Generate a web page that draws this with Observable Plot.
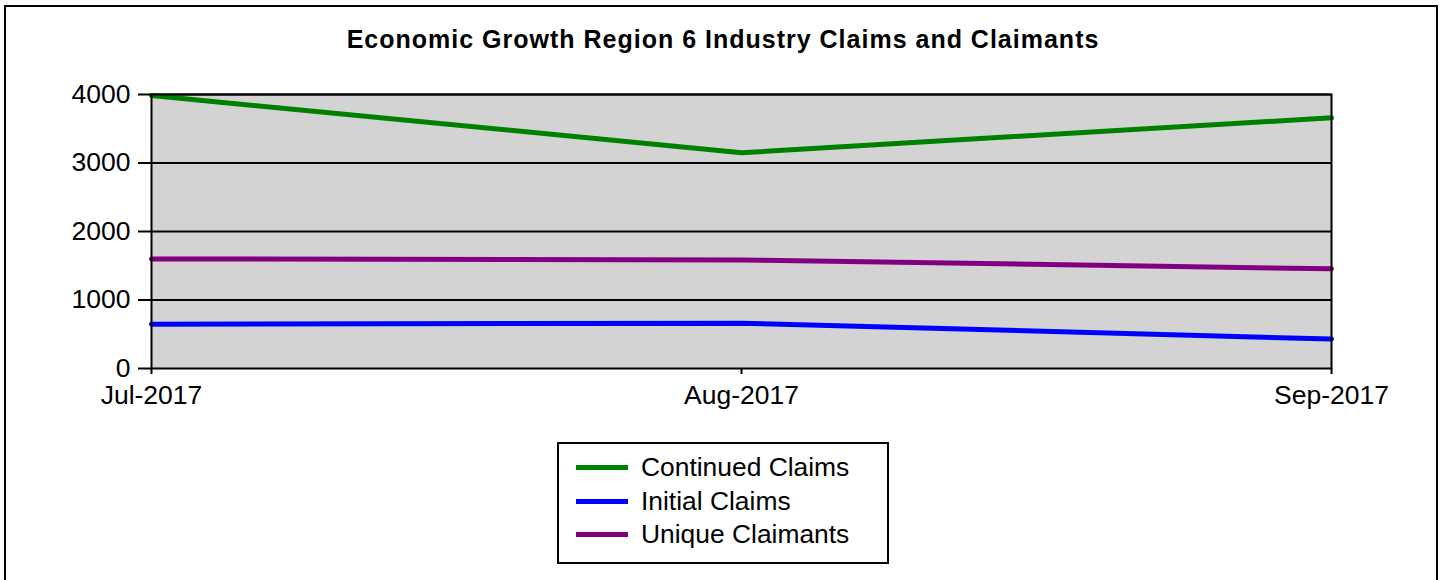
<!DOCTYPE html>
<html>
<head>
<meta charset="utf-8">
<script src="https://cdn.jsdelivr.net/npm/d3@7"></script>
<script src="https://cdn.jsdelivr.net/npm/@observablehq/plot@0.6"></script>
<style>
  html, body { margin: 0; padding: 0; background: #fff; }
  body { width: 1444px; height: 580px; overflow: hidden; font-family: "Liberation Sans", Arial, sans-serif; }
  #wrap { position: relative; width: 1444px; height: 580px; }
  #border { position: absolute; left: 4px; top: 5px; width: 1434px; height: 600px; border: 2px solid #000; box-sizing: border-box; }
  #title { position: absolute; left: 0; width: 1446px; top: 24px; text-align: center; font-weight: bold; font-size: 25px; letter-spacing: 1px; color: #000; line-height: 30px; }
  #chart { position: absolute; left: 0; top: 0; }
  #legend { position: absolute; left: 557px; top: 442px; width: 332px; height: 122px; border: 2px solid #000; box-sizing: border-box; background: #fff; }
  .item { position: absolute; left: 0; height: 30px; font-size: 26.4px; color: #000; }
  .sw { position: absolute; left: 17px; width: 52px; height: 5px; }
  .lab { position: absolute; left: 82px; top: 0; white-space: nowrap; line-height: 30px; }
</style>
</head>
<body>
<div id="wrap">
  <div id="border"></div>
  <div id="title"></div>
  <div id="chart"></div>
  <div id="legend"></div>
</div>
<script>
const titleText = "Economic Growth Region 6 Industry Claims and Claimants";
const months = ["Jul-2017", "Aug-2017", "Sep-2017"];
const seriesNames = ["Continued Claims", "Initial Claims", "Unique Claimants"];
const seriesColors = ["#008000", "#0000ff", "#800080"];
const continuedClaims = [3985, 3150, 3660];
const initialClaims = [645, 662, 430];
const uniqueClaimants = [1600, 1585, 1455];
const yTicks = [0, 1000, 2000, 3000, 4000];

const seriesValues = [continuedClaims, initialClaims, uniqueClaimants];
const data = [];
seriesNames.forEach((s, i) => months.forEach((m, j) => data.push({series: s, month: m, value: seriesValues[i][j]})));

document.getElementById("title").textContent = titleText;

const chart = Plot.plot({
  width: 1444,
  height: 420,
  marginLeft: 151,
  marginRight: 113,
  marginTop: 94,
  marginBottom: 52,
  style: {fontFamily: "'Liberation Sans', Arial, sans-serif", fontSize: "26.5px", color: "#000", background: "transparent", overflow: "visible"},
  x: {type: "point", domain: months, padding: 0},
  y: {domain: [0, 4000]},
  color: {domain: seriesNames, range: seriesColors},
  marks: [
    Plot.frame({fill: "#d3d3d3", stroke: null}),
    Plot.ruleY(yTicks.filter(d => d > 0), {stroke: "#000", strokeWidth: 2}),
    Plot.line(data, {x: "month", y: "value", z: "series", stroke: "series", strokeWidth: 5}),
    Plot.frame({stroke: "#000", strokeWidth: 2}),
    Plot.axisY(yTicks, {tickSize: 13, tickPadding: 8, strokeWidth: 2, label: null, fontSize: 26.5, tickFormat: d => String(d)}),
    Plot.axisX({tickSize: 6, tickPadding: 11, strokeWidth: 2, label: null, fontSize: 26.5})
  ]
});
document.getElementById("chart").appendChild(chart);

const legend = document.getElementById("legend");
const rowTops = [8, 42, 75];
seriesNames.forEach((s, i) => {
  const row = document.createElement("div");
  row.className = "item";
  row.style.top = rowTops[i] + "px";
  row.style.width = "100%";
  const sw = document.createElement("div");
  sw.className = "sw";
  sw.style.background = seriesColors[i];
  sw.style.top = "13px";
  const lab = document.createElement("div");
  lab.className = "lab";
  lab.textContent = s;
  row.appendChild(sw);
  row.appendChild(lab);
  legend.appendChild(row);
});
</script>
</body>
</html>
